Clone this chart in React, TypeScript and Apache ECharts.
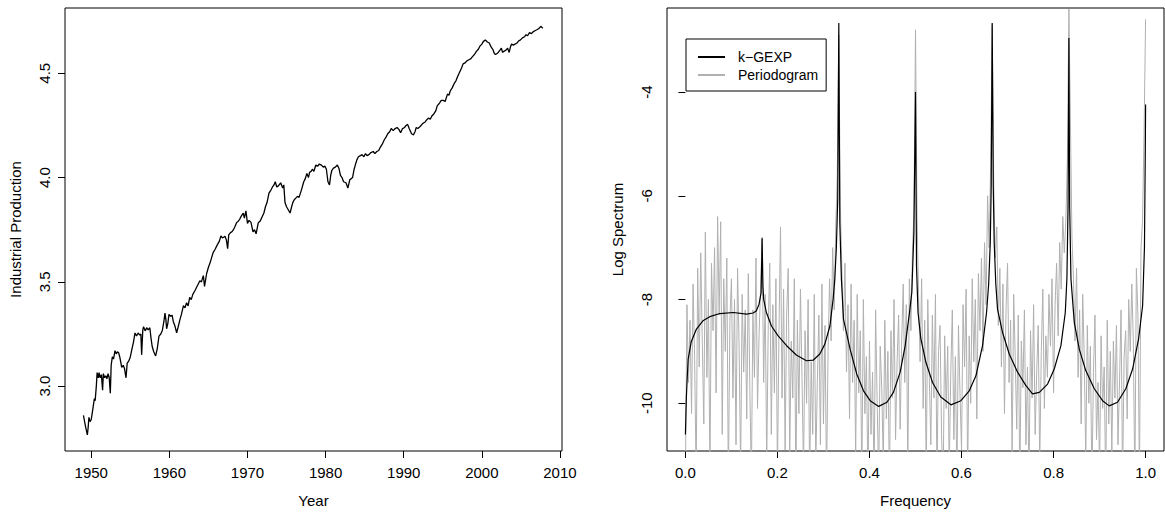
import React, { useEffect, useRef } from "react";
import * as echarts from "echarts";

// ---- Left panel: industrial production (log) ----
const ipYears = [
  1949.0, 1949.25, 1949.5, 1949.6, 1949.7, 1949.85, 1950.0, 1950.2, 1950.4, 1950.5,
  1950.65, 1950.75, 1950.9, 1951.0, 1951.15, 1951.3, 1951.45, 1951.55, 1951.7, 1951.85,
  1952.0, 1952.15, 1952.3, 1952.44, 1952.55, 1952.7, 1952.85, 1953.04, 1953.2, 1953.35,
  1953.5, 1953.65, 1953.9, 1954.1, 1954.25, 1954.45, 1954.6, 1954.8, 1955.0, 1955.2,
  1955.4, 1955.6, 1955.8, 1956.0, 1956.2, 1956.35, 1956.45, 1956.6, 1956.7, 1956.9,
  1957.1, 1957.3, 1957.5, 1957.65, 1957.8, 1958.0, 1958.24, 1958.45, 1958.67, 1958.9,
  1959.1, 1959.3, 1959.44, 1959.55, 1959.65, 1959.8, 1959.95, 1960.15, 1960.35, 1960.5,
  1960.7, 1960.93, 1961.1, 1961.36, 1961.55, 1961.8, 1962.0, 1962.2, 1962.4, 1962.6,
  1962.8, 1963.0, 1963.3, 1963.5, 1963.7, 1963.9, 1964.1, 1964.35, 1964.5, 1964.77,
  1965.0, 1965.2, 1965.4, 1965.6, 1965.84, 1966.1, 1966.4, 1966.6, 1966.8, 1967.0,
  1967.12, 1967.3, 1967.46, 1967.6, 1967.8, 1968.0, 1968.2, 1968.4, 1968.6, 1968.8,
  1969.0, 1969.2, 1969.46, 1969.6, 1969.8, 1970.0, 1970.2, 1970.45, 1970.7, 1970.9,
  1971.1, 1971.38, 1971.6, 1971.85, 1972.1, 1972.3, 1972.5, 1972.75, 1973.0, 1973.2,
  1973.4, 1973.55, 1973.75, 1973.95, 1974.25, 1974.5, 1974.65, 1974.8, 1975.0, 1975.2,
  1975.45, 1975.65, 1975.8, 1976.0, 1976.15, 1976.4, 1976.6, 1976.9, 1977.2, 1977.4,
  1977.6, 1977.8, 1977.95, 1978.15, 1978.3, 1978.5, 1978.75, 1979.0, 1979.2, 1979.45,
  1979.7, 1979.9, 1980.1, 1980.3, 1980.5, 1980.65, 1980.8, 1981.0, 1981.25, 1981.5,
  1981.7, 1981.9, 1982.1, 1982.3, 1982.6, 1982.85, 1983.1, 1983.3, 1983.45, 1983.65,
  1983.8, 1984.0, 1984.2, 1984.45, 1984.65, 1984.9, 1985.1, 1985.3, 1985.55, 1985.8,
  1986.1, 1986.3, 1986.55, 1986.8, 1987.0, 1987.25, 1987.5, 1987.75, 1987.95, 1988.2,
  1988.4, 1988.65, 1988.9, 1989.15, 1989.4, 1989.6, 1989.85, 1990.1, 1990.3, 1990.5,
  1990.7, 1991.0, 1991.25, 1991.45, 1991.6, 1991.8, 1992.1, 1992.45, 1992.7, 1992.9,
  1993.15, 1993.4, 1993.6, 1993.85, 1994.1, 1994.3, 1994.55, 1994.8, 1995.05, 1995.3,
  1995.6, 1995.8, 1995.95, 1996.2, 1996.45, 1996.7, 1996.9, 1997.15, 1997.4, 1997.6,
  1997.85, 1998.1, 1998.35, 1998.6, 1998.8, 1999.05, 1999.3, 1999.55, 1999.75, 2000.0,
  2000.2, 2000.45, 2000.7, 2000.95, 2001.2, 2001.4, 2001.6, 2001.75, 2001.95, 2002.1,
  2002.3, 2002.5, 2002.65, 2002.8, 2003.05, 2003.3, 2003.5, 2003.65, 2003.8, 2004.05,
  2004.25, 2004.5, 2004.7, 2004.95, 2005.2, 2005.45, 2005.65, 2005.85, 2006.1, 2006.35,
  2006.6, 2006.85, 2007.1, 2007.3, 2007.55, 2007.7, 2007.8,
];
const ipValues = [
  2.86, 2.81, 2.766, 2.8, 2.85, 2.83, 2.84, 2.89, 2.94, 2.93,
  3.0, 3.065, 3.04, 3.065, 3.04, 3.055, 2.98, 3.06, 3.04, 3.05,
  3.035, 3.06, 3.04, 2.966, 3.1, 3.14, 3.13, 3.17, 3.155, 3.165,
  3.16, 3.14, 3.09, 3.1, 3.085, 3.04, 3.11, 3.12, 3.14, 3.176,
  3.21, 3.255, 3.24, 3.255, 3.245, 3.25, 3.15, 3.27, 3.285, 3.265,
  3.28, 3.27, 3.28, 3.23, 3.19, 3.165, 3.145, 3.18, 3.24, 3.25,
  3.267, 3.31, 3.35, 3.32, 3.275, 3.3, 3.344, 3.335, 3.34, 3.31,
  3.29, 3.256, 3.28, 3.32, 3.345, 3.386, 3.375, 3.4, 3.385, 3.425,
  3.415, 3.44, 3.46, 3.475, 3.49, 3.505, 3.5, 3.53, 3.478, 3.54,
  3.57, 3.59, 3.615, 3.64, 3.655, 3.675, 3.695, 3.72, 3.711, 3.715,
  3.719, 3.7, 3.659, 3.725, 3.735, 3.74, 3.75, 3.765, 3.783, 3.79,
  3.8, 3.815, 3.83, 3.805, 3.84, 3.78, 3.795, 3.785, 3.74, 3.75,
  3.73, 3.783, 3.79, 3.81, 3.83, 3.86, 3.88, 3.925, 3.94, 3.955,
  3.965, 3.98, 3.955, 3.96, 3.975, 3.95, 3.965, 3.88, 3.86, 3.847,
  3.83, 3.86, 3.88, 3.895, 3.9, 3.91, 3.905, 3.94, 3.98, 3.995,
  4.02, 4.0, 4.025, 4.03, 4.04, 4.03, 4.06, 4.055, 4.065, 4.06,
  4.05, 4.055, 4.04, 3.98, 3.965, 4.01, 4.035, 4.045, 4.05, 4.06,
  4.045, 4.01, 4.0, 3.98, 3.975, 3.95, 3.99, 3.995, 4.0, 4.04,
  4.06, 4.085, 4.1, 4.105, 4.11, 4.1, 4.115, 4.105, 4.11, 4.12,
  4.125, 4.115, 4.125, 4.13, 4.145, 4.16, 4.18, 4.195, 4.21, 4.22,
  4.235, 4.225, 4.235, 4.24, 4.23, 4.215, 4.235, 4.24, 4.25, 4.255,
  4.235, 4.21, 4.205, 4.22, 4.24, 4.235, 4.245, 4.26, 4.265, 4.275,
  4.285, 4.28, 4.295, 4.305, 4.32, 4.345, 4.355, 4.37, 4.37, 4.365,
  4.4, 4.395, 4.415, 4.43, 4.45, 4.465, 4.485, 4.505, 4.525, 4.545,
  4.55, 4.56, 4.565, 4.57, 4.58, 4.59, 4.605, 4.615, 4.63, 4.64,
  4.653, 4.66, 4.65, 4.645, 4.625, 4.615, 4.595, 4.59, 4.595, 4.6,
  4.61, 4.62, 4.6, 4.605, 4.61, 4.62, 4.6, 4.625, 4.64, 4.635,
  4.64, 4.645, 4.655, 4.66, 4.67, 4.675, 4.685, 4.68, 4.695, 4.69,
  4.7, 4.705, 4.71, 4.715, 4.725, 4.72, 4.715,
];
const yearTicks = [1950, 1960, 1970, 1980, 1990, 2000, 2010];
const ipTicks = [3.0, 3.5, 4.0, 4.5];

// ---- Right panel: periodogram (one value per Fourier frequency step of 1/300) ----
const periodogram = [
  -11.5, -8.1, -9.6, -8.4, -10.2, -7.7, -9.1, -11.5, -7.4, -9.3,
  -7.1, -8.8, -10.4, -6.7, -9.5, -8.0, -11.4, -7.3, -8.6, -7.0,
  -9.8, -6.4, -8.3, -6.5, -10.6, -7.6, -9.0, -7.2, -11.6, -8.4,
  -7.6, -9.9, -8.0, -10.8, -7.4, -8.9, -11.3, -7.9, -9.4, -8.2,
  -10.3, -7.5, -9.7, -11.5, -8.2, -9.5, -7.2, -10.1, -8.7, -7.8,
  -6.8, -9.6, -7.9, -11.2, -8.5, -7.3, -10.6, -8.1, -9.8, -7.6,
  -11.4, -8.6, -6.6, -9.9, -7.8, -10.9, -8.3, -7.4, -11.0, -8.8,
  -9.9, -7.6, -11.6, -8.4, -10.2, -7.8, -9.5, -11.3, -8.6, -10.0,
  -8.0, -11.5, -9.2, -10.6, -7.9, -11.2, -9.6, -8.3, -10.8, -7.7,
  -10.4, -8.5, -11.5, -9.0, -7.6, -8.8, -7.0, -8.2, -6.6, -5.6,
  -2.9, -6.2, -7.4, -8.6, -7.3, -9.4, -8.1, -10.3, -7.7, -9.6,
  -8.4, -11.0, -7.9, -9.8, -8.6, -11.5, -8.0, -10.2, -9.1, -11.6,
  -8.8, -10.6, -9.4, -11.5, -8.2, -10.0, -11.4, -8.9, -9.7, -11.2,
  -8.4, -10.3, -9.0, -11.6, -8.6, -9.9, -8.0, -10.7, -9.2, -8.3,
  -10.5, -8.8, -7.7, -9.6, -8.1, -11.3, -7.6, -8.6, -7.1, -6.3,
  -2.8, -6.4, -7.9, -9.2, -7.6, -10.1, -8.4, -11.4, -8.0, -9.5,
  -10.8, -8.3, -9.9, -7.9, -11.5, -9.0, -8.5, -10.6, -11.6, -8.7,
  -10.1, -8.9, -11.3, -9.4, -8.2, -10.7, -9.1, -11.6, -8.5, -9.8,
  -10.9, -8.1, -9.3, -7.8, -11.4, -8.7, -10.0, -7.6, -9.2, -8.0,
  -10.3, -7.5, -8.6, -7.2, -9.0, -6.9, -8.1, -6.0, -7.0, -5.4,
  -2.7, -5.8, -7.2, -6.6, -8.5, -7.4, -9.3, -7.7, -10.2, -8.2,
  -7.3, -9.6, -8.4, -11.0, -7.9, -9.1, -10.5, -8.3, -11.6, -8.8,
  -9.7, -8.2, -10.8, -9.3, -11.5, -8.6, -9.9, -8.1, -10.6, -9.4,
  -8.5, -11.2, -9.0, -7.8, -10.1, -8.7, -9.5, -7.9, -8.9, -7.6,
  -9.8, -8.1, -7.3, -8.7, -6.9, -7.8, -6.4, -7.1, -6.5, -5.3,
  -2.4, -4.6, -6.8, -7.6, -8.8, -7.4, -9.5, -8.2, -10.4, -7.9,
  -9.1, -11.1, -8.5, -10.0, -8.9, -11.6, -9.4, -8.3, -10.7, -9.6,
  -11.3, -8.7, -10.1, -9.3, -11.6, -8.4, -10.4, -9.0, -11.0, -8.8,
  -9.9, -8.5, -10.8, -9.6, -8.2, -11.5, -9.1, -8.6, -10.3, -8.0,
  -9.0, -7.7, -8.8, -11.6, -7.4, -8.3, -11.5, -7.0, -6.5, -4.8,
  -2.6,
];
const periodogramSteps = 300;

// ---- Right panel: k-GEXP fitted log spectrum ----
const gexpFreq = [
  0, 0.002, 0.004, 0.006, 0.0125, 0.024, 0.038, 0.053, 0.075, 0.104,
  0.133, 0.147, 0.154, 0.16, 0.1645, 0.16667, 0.1685, 0.17, 0.176, 0.187,
  0.2015, 0.22, 0.241, 0.263, 0.2775, 0.292, 0.303, 0.314, 0.321, 0.3246,
  0.328, 0.331, 0.33333, 0.3355, 0.339, 0.3435, 0.358, 0.3725, 0.387, 0.4015,
  0.42, 0.438, 0.452, 0.4667, 0.4776, 0.487, 0.492, 0.4935, 0.4965, 0.5,
  0.5022, 0.5055, 0.5117, 0.5226, 0.537, 0.555, 0.577, 0.5987, 0.6168, 0.6313,
  0.6457, 0.6544, 0.659, 0.6625, 0.6645, 0.66667, 0.669, 0.671, 0.6745, 0.6783,
  0.689, 0.7037, 0.7218, 0.74, 0.7543, 0.769, 0.787, 0.8015, 0.816, 0.8255,
  0.829, 0.8315, 0.83333, 0.835, 0.8378, 0.845, 0.856, 0.87, 0.8885, 0.9065,
  0.921, 0.939, 0.957, 0.9718, 0.9848, 0.9935, 0.9975, 0.9993, 1.0,
];
const gexpValues = [
  -10.6, -9.9, -9.5, -9.15, -8.82, -8.57, -8.41, -8.33, -8.27, -8.25,
  -8.28, -8.26, -8.22, -8.09, -7.87, -6.82, -7.75, -7.99, -8.25, -8.51,
  -8.7, -8.89, -9.07, -9.18, -9.17, -9.05, -8.86, -8.51, -7.99, -7.61,
  -7.0, -6.07, -2.67, -6.5, -7.61, -8.38, -8.96, -9.44, -9.76, -9.95,
  -10.06, -9.98, -9.79, -9.4, -8.89, -8.25, -7.86, -7.48, -6.71, -4.0,
  -7.36, -8.25, -8.76, -9.21, -9.6, -9.88, -10.03, -9.95, -9.76, -9.47,
  -8.89, -8.25, -7.7, -6.9, -5.82, -2.67, -5.82, -6.9, -7.7, -8.19,
  -8.63, -9.05, -9.4, -9.66, -9.82, -9.79, -9.63, -9.34, -8.89, -8.25,
  -7.6, -6.2, -2.96, -6.2, -7.6, -8.44, -8.96, -9.37, -9.72, -9.95,
  -10.05, -9.98, -9.72, -9.34, -8.76, -8.12, -7.0, -5.2, -4.24,
];
const freqTicks = [0.0, 0.2, 0.4, 0.6, 0.8, 1.0];
const specTicks = [-10, -8, -6, -4];

const FONT = "'Liberation Sans', Arial, Helvetica, sans-serif";
const GRAY = "#b0b0b0";

export default function App() {
  const ref = useRef<HTMLDivElement>(null);
  useEffect(() => {
    if (!ref.current) return;
    const chart = echarts.init(ref.current, undefined, { renderer: "svg" });
    const label = { color: "#000", fontFamily: FONT, fontSize: 15 };
    const legendText = { color: "#000", fontFamily: FONT, fontSize: 14 };
    const tick = (vals: number[]) => ({
      show: true,
      inside: false,
      length: 7,
      lineStyle: { color: "#000", width: 1 },
      customValues: vals,
    });
    const ipData = ipYears.map((y, i) => [y, ipValues[i]]);
    const pgData = periodogram.map((v, i) => [i / periodogramSteps, v]);
    const gxData = gexpFreq.map((f, i) => [f, gexpValues[i]]);
    chart.setOption({
      animation: false,
      backgroundColor: "#fff",
      grid: [
        { left: 65, top: 8, width: 497, height: 444, show: true, borderColor: "#000", borderWidth: 1, backgroundColor: "transparent" },
        { left: 667, top: 8, width: 497, height: 444, show: true, borderColor: "#000", borderWidth: 1, backgroundColor: "transparent" },
      ],
      xAxis: [
        {
          gridIndex: 0, type: "value", min: 1946.64, max: 2010.26,
          name: "Year", nameLocation: "middle", nameGap: 42, nameTextStyle: label,
          axisLine: { show: false }, splitLine: { show: false },
          axisTick: tick(yearTicks),
          axisLabel: { ...label, margin: 14, customValues: yearTicks, formatter: (v: number) => String(v) },
        },
        {
          gridIndex: 1, type: "value", min: -0.04, max: 1.04,
          name: "Frequency", nameLocation: "middle", nameGap: 42, nameTextStyle: label,
          axisLine: { show: false }, splitLine: { show: false },
          axisTick: tick(freqTicks),
          axisLabel: { ...label, margin: 14, customValues: freqTicks, formatter: (v: number) => v.toFixed(1) },
        },
      ],
      yAxis: [
        {
          gridIndex: 0, type: "value", min: 2.689, max: 4.813,
          name: "Industrial Production", nameLocation: "middle", nameGap: 42, nameTextStyle: label,
          axisLine: { show: false }, splitLine: { show: false },
          axisTick: tick(ipTicks),
          axisLabel: { ...label, margin: 13, rotate: 90, customValues: ipTicks, formatter: (v: number) => v.toFixed(1) },
        },
        {
          gridIndex: 1, type: "value", min: -10.92, max: -2.38,
          name: "Log Spectrum", nameLocation: "middle", nameGap: 42, nameTextStyle: label,
          axisLine: { show: false }, splitLine: { show: false },
          axisTick: tick(specTicks),
          axisLabel: { ...label, margin: 13, rotate: 90, customValues: specTicks, formatter: (v: number) => String(v) },
        },
      ],
      legend: {
        orient: "vertical",
        left: 686,
        top: 39,
        padding: [11, 8, 9, 12],
        itemGap: 4,
        itemWidth: 27,
        itemHeight: 2,
        icon: "rect",
        borderColor: "#000",
        borderWidth: 1,
        borderRadius: 0,
        textStyle: { ...legendText, lineHeight: 14, padding: [0, 0, 0, 8] },
        data: [
          { name: "k\u2212GEXP", icon: "rect", itemStyle: { color: "#000" } },
          { name: "Periodogram", icon: "rect", itemStyle: { color: GRAY } },
        ],
      },
      series: [
        {
          type: "line", name: "Industrial Production", xAxisIndex: 0, yAxisIndex: 0,
          data: ipData, symbol: "none", lineStyle: { color: "#000", width: 1.3 }, itemStyle: { color: "#000" },
        },
        {
          type: "line", name: "Periodogram", xAxisIndex: 1, yAxisIndex: 1,
          data: pgData, symbol: "none", clip: true, lineStyle: { color: GRAY, width: 1 }, itemStyle: { color: GRAY },
        },
        {
          type: "line", name: "k\u2212GEXP", xAxisIndex: 1, yAxisIndex: 1,
          data: gxData, symbol: "none", clip: true, lineStyle: { color: "#000", width: 1.2 }, itemStyle: { color: "#000" },
        },
      ],
    });
    return () => chart.dispose();
  }, []);
  return (
    <div
      ref={ref}
      style={{ position: "fixed", left: 0, top: 0, width: 1165, height: 513, background: "#fff" }}
    />
  );
}
